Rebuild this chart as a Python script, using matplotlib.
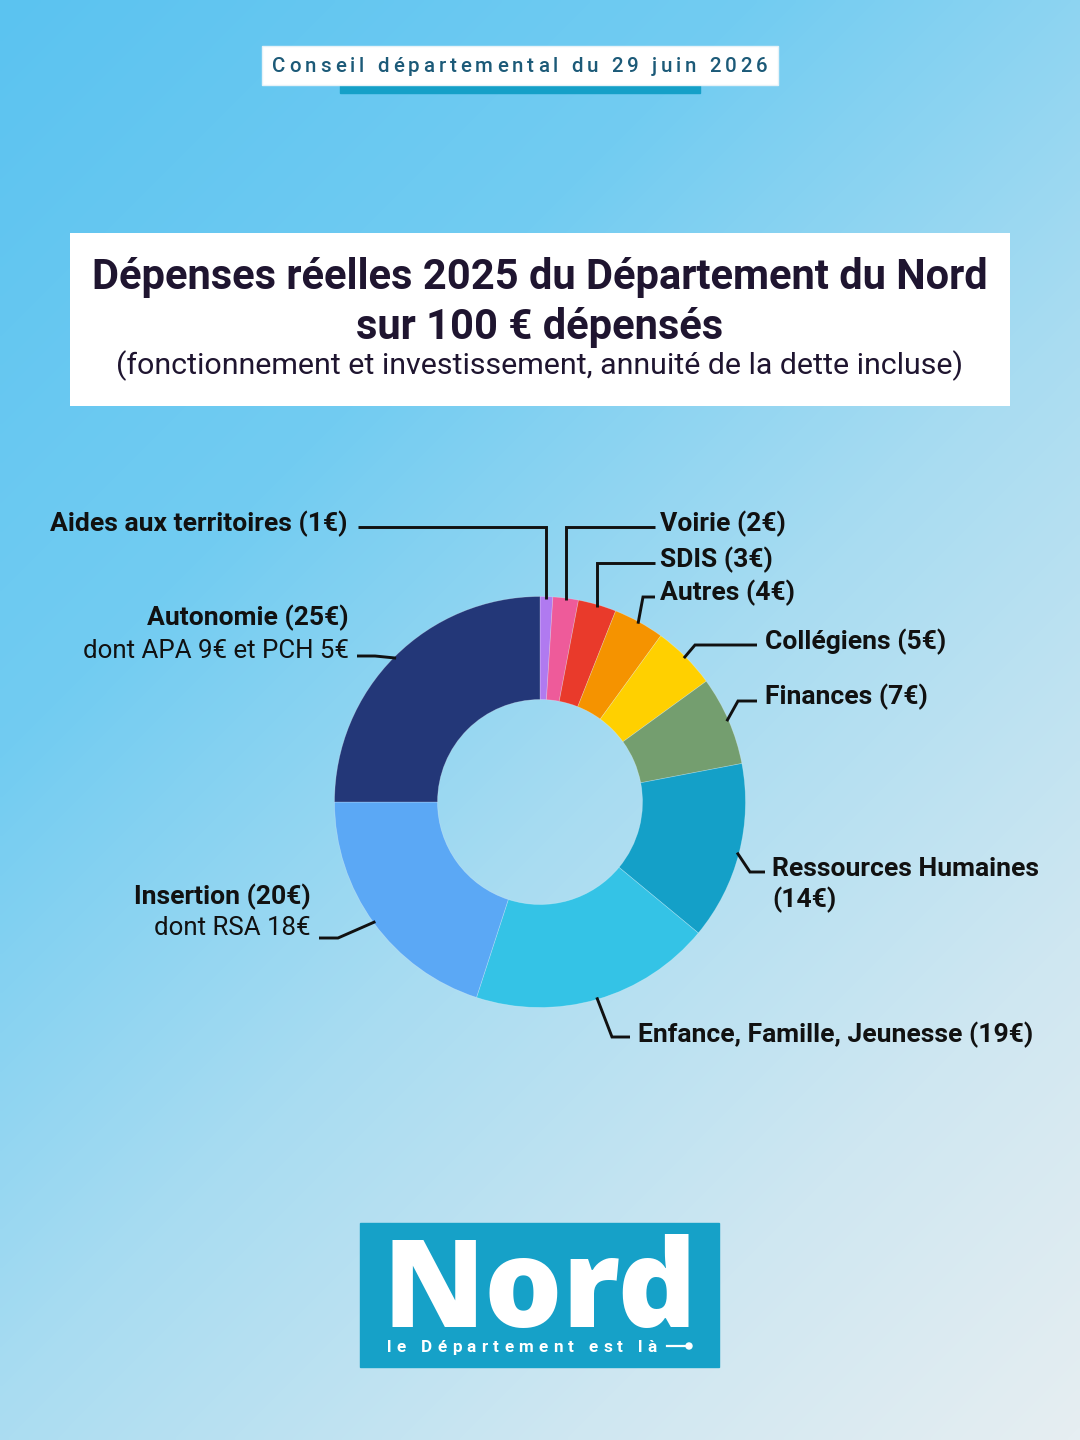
import numpy as np
import matplotlib.pyplot as plt
from matplotlib.colors import LinearSegmentedColormap
from matplotlib.patches import Rectangle, Circle
from matplotlib.font_manager import FontProperties, findfont, get_font

W, H = 1080, 1440

categories = ["Aides aux territoires", "Voirie", "SDIS", "Autres", "Collégiens",
              "Finances", "Ressources Humaines", "Enfance, Famille, Jeunesse",
              "Insertion", "Autonomie"]
values = [1, 2, 3, 4, 5, 7, 14, 19, 20, 25]
details = ["", "", "", "", "", "", "", "", "dont RSA 18€", "dont APA 9€ et PCH 5€"]
colors = ["#b07af0", "#ee5b9a", "#e93a2b", "#f59300", "#ffd000",
          "#749e6f", "#14a0c8", "#34c3e6", "#5ba8f5", "#233778"]

title1 = "Dépenses réelles 2025 du Département du Nord"
title2 = "sur 100 € dépensés"
subtitle = "(fonctionnement et investissement, annuité de la dette incluse)"
badge = "Conseil départemental du 29 juin 2026"

# label layout in image pixels: text x, align, baseline 1, baseline 2, elbow, line end x
layout = [
    (348, "right", 531, None, (None, 527), 358),
    (660, "left", 531, None, (None, 527), 655),
    (660, "left", 567, None, (None, 563), 655),
    (660, "left", 600, None, (643, 597), 655),
    (765, "left", 649, None, (695, 645), 757),
    (765, "left", 704, None, (738, 701), 757),
    (772, "left", 876, 907, (750, 872), 765),
    (638, "left", 1042, None, (612, 1037), 630),
    (311, "right", 904, 935, (338, 938), 319),
    (349, "right", 625, 658, (375, 656), 357),
]


def Y(y):
    return H - y


def text_w(s, size, weight="normal", family="Roboto"):
    f = get_font(findfont(FontProperties(family=family, weight=weight)))
    f.set_size(size, 100)
    return [f.load_char(ord(c)).linearHoriAdvance / 65536 for c in s]


def fit(s, target, weight="normal", family="Roboto"):
    return target / sum(text_w(s, 1.0, weight, family))


def spaced(ax, x0, y, s, size, target, **kw):
    adv = text_w(s, size, kw.get("fontweight", "normal"), kw.get("family", "Roboto"))
    gap = (target - sum(adv)) / (len(s) - 1)
    x = x0
    for c, a in zip(s, adv):
        if c != " ":
            ax.text(x, y, c, fontsize=size, ha="left", va="baseline", **kw)
        x += a + gap
    return x


fig = plt.figure(figsize=(10.8, 14.4), dpi=100)
ax = fig.add_axes([0, 0, 1, 1])

# background gradient
gx, gy = np.meshgrid(np.linspace(0, W, 270), np.linspace(0, H, 360))
t = (gx + gy) / (W + H)
cmap = LinearSegmentedColormap.from_list("bg", [(0, "#5bc3f0"), (0.3, "#72ccf2"), (0.55, "#a8dcf1"),
                                              (0.8, "#cfe7f1"), (1, "#e6eef2")])
ax.imshow(t, cmap=cmap, extent=(0, W, 0, H), origin="upper", aspect="auto",
          interpolation="bilinear", zorder=0, vmin=0, vmax=1)

# top badge
ax.add_patch(Rectangle((340, Y(93)), 360, 8, color="#15a0c8", zorder=2))
ax.add_patch(Rectangle((262, Y(85)), 516, 39, facecolor="white", edgecolor="#e6f2f8", lw=1, zorder=3))
spaced(ax, 272, Y(72), badge, 14.8, 496, color="#1c5a78", fontweight="medium", family="Roboto", zorder=4)

# title box
ax.add_patch(Rectangle((70, Y(406)), 940, 173, facecolor="white", edgecolor="none", zorder=2))
fs_t = fit(title1, 888, "bold")
ax.text(540, Y(289), title1, ha="center", va="baseline", fontsize=fs_t, fontweight="bold",
        family="Roboto", color="#1f1530", zorder=3)
ax.text(540, Y(339), title2, ha="center", va="baseline", fontsize=fs_t, fontweight="bold",
        family="Roboto", color="#1f1530", zorder=3)
ax.text(540, Y(374), subtitle, ha="center", va="baseline", fontsize=fit(subtitle, 838),
        family="Roboto", color="#1f1530", zorder=3)

# donut
cx, cy, R = 540, Y(802), 205.5
ax.pie(values, colors=colors, startangle=90, counterclock=False, radius=R, center=(cx, cy),
       wedgeprops=dict(width=103, edgecolor=(1, 1, 1, 0.3), linewidth=0.5))

cum = np.cumsum([0] + values[:-1])
mid = np.radians(90 - 3.6 * (cum + np.array(values) / 2))
fs_l = fit("Enfance, Famille, Jeunesse (19€)", 391, "bold")

for i, (cat, v) in enumerate(zip(categories, values)):
    tx, ha, b1, b2, (ex, ey), endx = layout[i]
    axx, axy = cx + (R - 2) * np.cos(mid[i]), cy + (R - 2) * np.sin(mid[i])
    ex = axx if ex is None else ex
    ax.plot([axx, ex, endx], [axy, Y(ey), Y(ey)], color="#111111", lw=2.1,
            solid_joinstyle="miter", solid_capstyle="butt", zorder=5)
    lines = [f"{cat} ({v}€)"]
    if cat == "Ressources Humaines":
        lines = [cat, f"({v}€)"]
    ax.text(tx, Y(b1), lines[0], ha=ha, va="baseline", fontsize=fs_l, fontweight="bold",
            family="Roboto", color="#111111", zorder=5)
    if len(lines) > 1:
        ax.text(tx, Y(b2), lines[1], ha=ha, va="baseline", fontsize=fs_l, fontweight="bold",
                family="Roboto", color="#111111", zorder=5)
    if details[i]:
        ax.text(tx, Y(b2), details[i], ha=ha, va="baseline", fontsize=fs_l * 0.98,
                family="Roboto", color="#111111", zorder=5)

# Nord logo
ax.add_patch(Rectangle((360, Y(1367)), 359, 144, color="#16a1c8", zorder=2))
ax.text(382, Y(1327), "Nord", ha="left", va="baseline", fontsize=fit("Nord", 314, "heavy", "Open Sans"),
        fontweight="heavy", family="Open Sans", color="white", zorder=3)
spaced(ax, 387, Y(1352), "le Département est là", 12.3, 270, color="white",
       fontweight="bold", family="Roboto", zorder=3)
ax.plot([667, 688], [Y(1346), Y(1346)], color="white", lw=1.6, zorder=3)
ax.add_patch(Circle((689, Y(1346)), 3, color="white", zorder=3))

ax.set_xlim(0, W)
ax.set_ylim(0, H)
ax.set_aspect("auto")
ax.axis("off")

fig.savefig("out.png", dpi=100)
